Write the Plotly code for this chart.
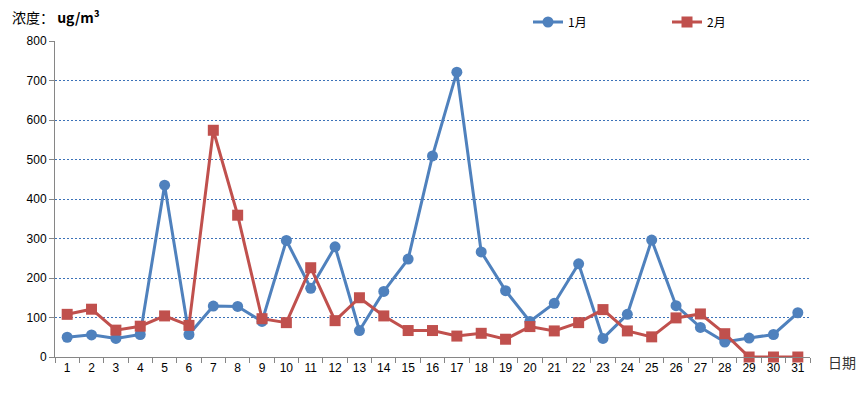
import plotly.graph_objects as go

days = [str(d) for d in range(1, 32)]
jan = [50, 56, 47, 57, 435, 57, 129, 128, 90, 295, 174, 279, 67, 166, 248,
       509, 721, 266, 168, 90, 136, 236, 47, 108, 296, 130, 75, 38, 48, 57, 112]
feb = [108, 121, 68, 78, 104, 80, 574, 359, 97, 87, 226, 92, 150, 104, 67,
       67, 53, 60, 45, 77, 66, 87, 120, 66, 51, 99, 109, 59, 0, 0, 0]
y_ticks = [0, 100, 200, 300, 400, 500, 600, 700, 800]

BLUE = "#4f81bd"
RED = "#c0504d"
FONT = "Liberation Sans, Noto Sans CJK SC, sans-serif"
CJK = "Noto Sans CJK SC, sans-serif"

fig = go.Figure()
fig.add_trace(go.Scatter(
    x=days, y=jan, name="1月", mode="lines+markers",
    line=dict(color=BLUE, width=3),
    marker=dict(symbol="circle", size=11, color=BLUE),
    cliponaxis=False,
))
fig.add_trace(go.Scatter(
    x=days, y=feb, name="2月", mode="lines+markers",
    line=dict(color=RED, width=3),
    marker=dict(symbol="square", size=11, color=RED),
    cliponaxis=False,
))

fig.update_layout(
    width=867, height=393,
    margin=dict(l=55, r=57, t=41, b=36, autoexpand=False),
    paper_bgcolor="white", plot_bgcolor="white",
    font=dict(family=FONT, size=12, color="black"),
    showlegend=True,
    legend=dict(
        orientation="h", xref="container", yref="container",
        x=528 / 867, y=1 - 22 / 393, xanchor="left", yanchor="middle",
        entrywidth=94, entrywidthmode="pixels", itemwidth=30,
        font=dict(size=12, family=CJK),
        bgcolor="rgba(0,0,0,0)",
    ),
    xaxis=dict(
        type="category", range=[-0.5, 30.5], automargin=False,
        showline=True, linecolor="#868686", linewidth=1,
        ticks="outside", ticklen=5, tickcolor="#868686", tickson="boundaries",
        showgrid=False, tickfont=dict(size=12), fixedrange=True,
    ),
    yaxis=dict(
        range=[0, 800], tickvals=y_ticks, automargin=False,
        showline=True, linecolor="#868686", linewidth=1,
        ticks="outside", ticklen=5, tickcolor="#868686",
        showgrid=True, gridcolor="#3c72b8", griddash="2px,2px", gridwidth=1,
        zeroline=False, tickfont=dict(size=12), fixedrange=True,
    ),
    annotations=[
        dict(text="浓度： <b>ug/m³</b>", xref="paper", yref="paper",
             x=-0.06, y=1.076, xanchor="left", yanchor="middle",
             showarrow=False, font=dict(size=14, family=CJK)),
        dict(text="日期", xref="paper", yref="paper",
             x=1.021, y=-0.016, xanchor="left", yanchor="middle",
             showarrow=False, font=dict(size=14, family=CJK, color="#333333")),
    ],
)

fig.write_html(
    "out.html",
    config={"displayModeBar": False},
    post_script="document.body.style.margin='0px';document.body.style.overflow='hidden';",
)
